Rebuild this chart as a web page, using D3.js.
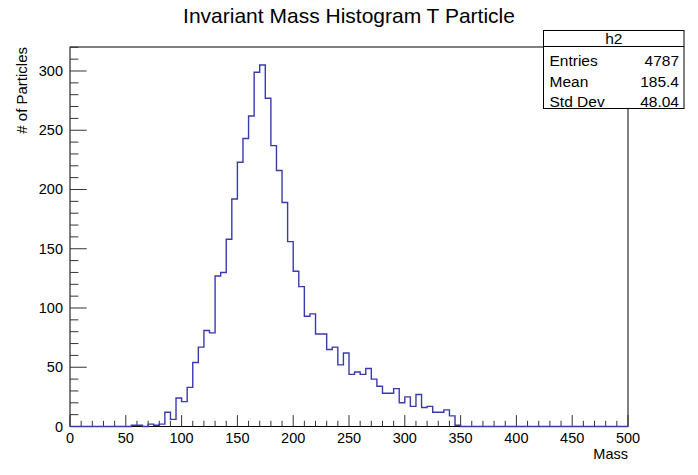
<!DOCTYPE html>
<html>
<head>
<meta charset="utf-8">
<script src="https://cdn.jsdelivr.net/npm/d3@7"></script>
<style>
  body { margin: 0; background: #fff; }
  text { font-family: "Liberation Sans", Arial, sans-serif; fill: #000; }
</style>
</head>
<body>
<script>
// histogram: 100 bins of width 5 from 0 to 500
var binEdges = d3.range(0, 505, 5);
var counts = [
  0, 0, 0, 0, 0, 0, 0, 0, 0, 0,
  0, 1, 1, 0, 2, 1, 2, 12, 6, 24,
  21, 33, 54, 67, 81, 79, 127, 130, 158, 192,
  223, 243, 262, 299, 305, 277, 237, 216, 189, 156,
  131, 118, 93, 95, 78, 78, 65, 67, 52, 62,
  44, 46, 44, 49, 40, 34, 28, 28, 32, 20,
  25, 17, 27, 16, 17, 12, 12, 14, 9, 1,
  0, 0, 0, 0, 0, 0, 0, 0, 0, 0,
  0, 0, 0, 0, 0, 0, 0, 0, 0, 0,
  0, 0, 0, 0, 0, 0, 0, 0, 0, 0
];
var xTicks = [0, 50, 100, 150, 200, 250, 300, 350, 400, 450, 500];
var yTicks = [0, 50, 100, 150, 200, 250, 300];
var statNames = ["Entries", "Mean", "Std Dev"];
var statValues = ["4787", "185.4", "48.04"];

var W = 698, H = 475;
var padL = 70, padR = 628, padT = 47, padB = 426.5;

var svg = d3.select("body").append("svg")
  .attr("width", W)
  .attr("height", H);

var x = d3.scaleLinear().domain([0, 500]).range([padL, padR]);
var y = d3.scaleLinear().domain([0, 320.25]).range([padB, padT]);

// frame
svg.append("rect")
  .attr("x", padL).attr("y", padT)
  .attr("width", padR - padL).attr("height", padB - padT)
  .attr("fill", "none").attr("stroke", "#000").attr("stroke-width", 1);

// x axis ticks (major 50, minor 10)
var xMinor = d3.range(0, 501, 10);
svg.selectAll(".xt").data(xMinor).enter().append("line")
  .attr("x1", function(d) { return x(d); })
  .attr("x2", function(d) { return x(d); })
  .attr("y1", padB)
  .attr("y2", function(d) { return d % 50 === 0 ? padB - 11.4 : padB - 5.7; })
  .attr("stroke", "#333").attr("stroke-width", 1);

// y axis ticks
var yMinor = d3.range(0, 321, 10);
svg.selectAll(".yt").data(yMinor).enter().append("line")
  .attr("x1", padL)
  .attr("x2", function(d) { return d % 50 === 0 ? padL + 16.7 : padL + 8.4; })
  .attr("y1", function(d) { return y(d); })
  .attr("y2", function(d) { return y(d); })
  .attr("stroke", "#333").attr("stroke-width", 1);

// histogram outline
var pts = [[x(0), y(0)]];
counts.forEach(function(c, i) {
  pts.push([x(binEdges[i]), y(c)]);
  pts.push([x(binEdges[i + 1]), y(c)]);
});
pts.push([x(500), y(0)]);
svg.append("path")
  .attr("d", d3.line()(pts))
  .attr("fill", "none")
  .attr("stroke", "#3a3ab0")
  .attr("stroke-width", 1.4);

svg.selectAll(".xl").data(xTicks).enter().append("text")
  .attr("x", function(d) { return x(d); })
  .attr("y", 443)
  .attr("text-anchor", "middle")
  .attr("font-size", "14.5px")
  .text(function(d) { return d; });

svg.selectAll(".yl").data(yTicks).enter().append("text")
  .attr("x", 63)
  .attr("y", function(d) { return y(d) + 5; })
  .attr("text-anchor", "end")
  .attr("font-size", "14.5px")
  .text(function(d) { return d; });

// axis titles
svg.append("text")
  .attr("x", padR).attr("y", 459)
  .attr("text-anchor", "end")
  .attr("font-size", "14.5px")
  .text("Mass");

svg.append("text")
  .attr("transform", "translate(27," + padT + ") rotate(-90)")
  .attr("text-anchor", "end")
  .attr("font-size", "15px")
  .text("# of Particles");

// title
svg.append("text")
  .attr("x", 349).attr("y", 23)
  .attr("text-anchor", "middle")
  .attr("font-size", "21px")
  .text("Invariant Mass Histogram T Particle");

// stats box
var bx = 543.5, by = 30.5, bw = 140.5, bh = 78;
svg.append("rect")
  .attr("x", bx).attr("y", by).attr("width", bw).attr("height", bh)
  .attr("fill", "#fff").attr("stroke", "#000").attr("stroke-width", 1);
svg.append("line")
  .attr("x1", bx).attr("x2", bx + bw)
  .attr("y1", 46.5).attr("y2", 46.5)
  .attr("stroke", "#000").attr("stroke-width", 1);
svg.append("text")
  .attr("x", bx + bw / 2).attr("y", 44)
  .attr("text-anchor", "middle")
  .attr("font-size", "15.5px")
  .text("h2");
statNames.forEach(function(n, i) {
  var ty = 66 + i * 20.5;
  svg.append("text")
    .attr("x", bx + 6).attr("y", ty)
    .attr("font-size", "15.5px")
    .text(n);
  svg.append("text")
    .attr("x", bx + bw - 5).attr("y", ty)
    .attr("text-anchor", "end")
    .attr("font-size", "15.5px")
    .text(statValues[i]);
});
</script>
</body>
</html>
